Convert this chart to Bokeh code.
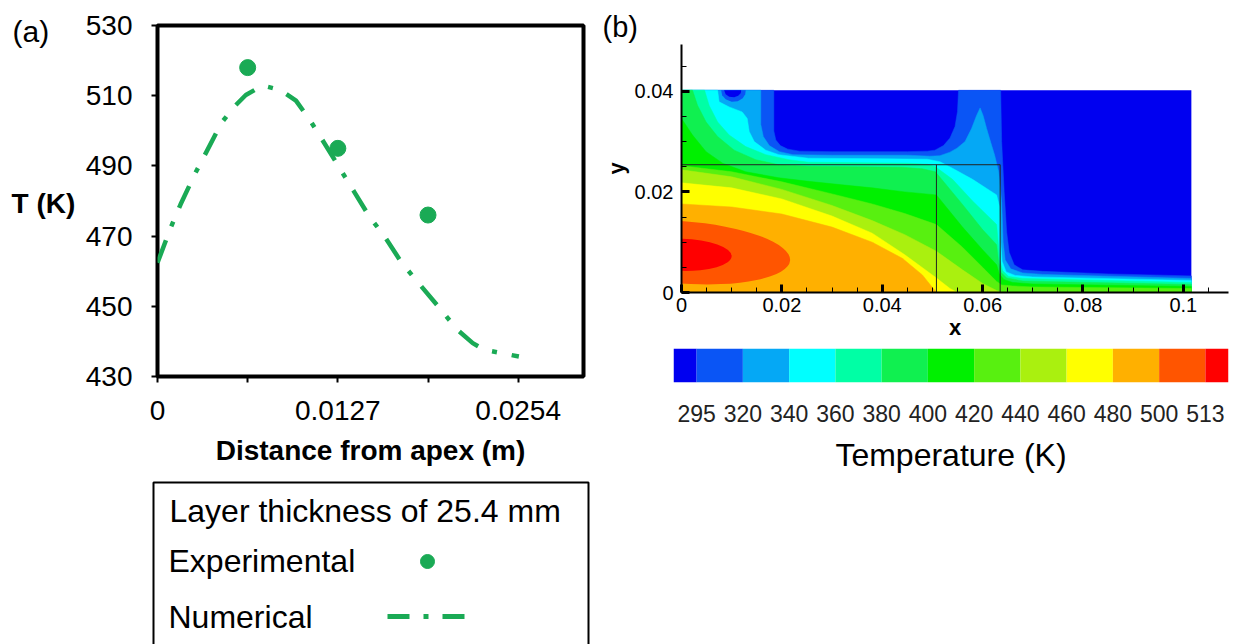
from bokeh.plotting import figure
from bokeh.layouts import row, column
from bokeh.models import Range1d, FixedTicker, SingleIntervalTicker, CustomJSTickFormatter
from bokeh.core.properties import value
from bokeh.embed import file_html
from bokeh.resources import INLINE

FONT = "Liberation Sans"
GREEN = "#1aaa55"

# ---------------- panel (a) data ----------------
exp_x = [0.00635, 0.0127, 0.01905]
exp_T = [518, 495, 476]
num_x = [0, 0.00095, 0.00162, 0.00262, 0.0031, 0.00451, 0.00541, 0.00622, 0.00739, 0.00867,
         0.00975, 0.01064, 0.01137, 0.01273, 0.01381, 0.0149, 0.01597, 0.0172, 0.01828,
         0.01976, 0.02112, 0.0222, 0.02301, 0.02545]
num_T = [462.4, 472.6, 479.0, 487.6, 491.3, 502.3, 506.9, 510.2, 512.9, 511.6,
         508.6, 503.6, 499.0, 490.0, 482.9, 475.7, 470.0, 462.4, 457.1,
         450.0, 443.3, 439.5, 437.6, 435.7]
a_xticks = [0, 0.0127, 0.0254]
a_xminor = [0.00635, 0.01905]
a_yticks = [430, 450, 470, 490, 510, 530]

# ---------------- panel (b) data ----------------
levels = [295, 320, 340, 360, 380, 400, 420, 440, 460, 480, 500, 513]
palette = ["#0000f0", "#0a55f5", "#05a8f5", "#00ffff", "#00ffa5", "#10f050", "#00f000",
           "#58f010", "#aaf00f", "#ffff00", "#ffb000", "#ff5500", "#ff0000"]
domain_w, domain_h = 0.1016, 0.0402
solid_w, solid_h, interface_x = 0.0635, 0.0254, 0.0508

# isotherm boundaries (x, y in m); region below/left is hotter
iso_295 = [(0.0184, 0.0402), (0.0184, 0.0321), (0.0188, 0.0303), (0.0197, 0.0292), (0.0212, 0.0285),
           (0.0235, 0.0281), (0.030, 0.0280), (0.045, 0.0280), (0.049, 0.0281), (0.0505, 0.0283),
           (0.0522, 0.0292), (0.0535, 0.0307), (0.0545, 0.0330), (0.0550, 0.0360), (0.0552, 0.0402),
           (0.0636, 0.0402), (0.0638, 0.030), (0.0643, 0.020), (0.0648, 0.012), (0.0653, 0.0080),
           (0.0663, 0.0055), (0.068, 0.0045), (0.072, 0.0042), (0.085, 0.0037), (0.1016, 0.0033)]
iso_320 = [(0.0158, 0.0402), (0.0158, 0.0334), (0.0163, 0.0310), (0.0175, 0.0292), (0.0195, 0.0280),
           (0.0222, 0.0274), (0.030, 0.0273), (0.045, 0.0273), (0.0495, 0.0271), (0.0515, 0.0272),
           (0.0535, 0.0279), (0.0549, 0.0287), (0.0565, 0.0300), (0.0578, 0.0326), (0.0588, 0.0352),
           (0.0595, 0.0367), (0.0601, 0.0352), (0.0608, 0.0326), (0.0616, 0.0299), (0.0624, 0.0273),
           (0.0632, 0.0240), (0.0638, 0.0180), (0.0641, 0.0100), (0.0645, 0.0065), (0.0656, 0.0047),
           (0.068, 0.0039), (0.072, 0.0036), (0.1016, 0.0028)]
iso_340 = [(0.0072, 0.0402), (0.0075, 0.0379), (0.0095, 0.0369), (0.0121, 0.0359), (0.0131, 0.0346),
           (0.0135, 0.0320), (0.0145, 0.0300), (0.0168, 0.0283), (0.0194, 0.0274), (0.0253, 0.0267),
           (0.040, 0.0266), (0.049, 0.0265), (0.0515, 0.0260), (0.054, 0.0247), (0.058, 0.0225),
           (0.0628, 0.0194), (0.0634, 0.0170), (0.0636, 0.0100), (0.0639, 0.0062), (0.0647, 0.0041),
           (0.0665, 0.0034), (0.070, 0.0031), (0.1016, 0.0024)]
iso_360 = [(0.0046, 0.0402), (0.0055, 0.0372), (0.0072, 0.0339), (0.0095, 0.0313), (0.0128, 0.0290),
           (0.0168, 0.0274), (0.0214, 0.0264), (0.0253, 0.0259), (0.035, 0.0258), (0.045, 0.0257),
           (0.049, 0.0255), (0.0506, 0.0250), (0.054, 0.0225), (0.058, 0.0182), (0.0628, 0.0135),
           (0.0631, 0.0100), (0.0634, 0.0065), (0.0640, 0.0043), (0.0652, 0.0032), (0.068, 0.0028),
           (0.072, 0.0027), (0.1016, 0.0020)]
iso_380 = [(0.0022, 0.0402), (0.0032, 0.0372), (0.0049, 0.0339), (0.0072, 0.0310), (0.0105, 0.0283),
           (0.0148, 0.0264), (0.0194, 0.0254), (0.0253, 0.0251), (0.035, 0.0250), (0.044, 0.0249),
           (0.048, 0.0246), (0.0506, 0.0240), (0.056, 0.0175), (0.060, 0.0125), (0.0628, 0.0095),
           (0.0632, 0.0060), (0.0637, 0.0040), (0.0648, 0.0029), (0.068, 0.0023), (0.072, 0.0022),
           (0.1016, 0.0016)]
iso_400 = [(0.0, 0.0346), (0.0022, 0.0313), (0.0049, 0.0280), (0.0082, 0.0257), (0.0128, 0.0240),
           (0.0194, 0.0228), (0.0253, 0.0221), (0.032, 0.0214), (0.038, 0.0208), (0.0445, 0.0200),
           (0.0508, 0.0194), (0.056, 0.0130), (0.060, 0.0085), (0.0628, 0.0055), (0.0633, 0.0038),
           (0.0642, 0.0026), (0.066, 0.0020), (0.070, 0.0017), (0.1016, 0.0012)]
iso_420 = [(0.0, 0.0252), (0.010, 0.0240), (0.020, 0.0220), (0.030, 0.0196), (0.038, 0.0176),
           (0.0445, 0.0157), (0.0508, 0.0135), (0.056, 0.0090), (0.060, 0.0050), (0.0628, 0.0022),
           (0.0638, 0.0015), (0.066, 0.0013), (0.070, 0.0011), (0.1016, 0.0008)]
iso_440 = [(0.0, 0.0244), (0.010, 0.0230), (0.020, 0.0205), (0.030, 0.0173), (0.038, 0.0143),
           (0.0445, 0.0115), (0.0508, 0.0082), (0.056, 0.0045), (0.060, 0.0018), (0.0628, 0.0004),
           (0.064, 0.0)]
iso_460 = [(0.0, 0.0218), (0.010, 0.0208), (0.020, 0.0186), (0.030, 0.0152), (0.038, 0.0118),
           (0.0445, 0.0075), (0.0508, 0.0029), (0.0535, 0.0008), (0.055, 0.0)]
iso_480 = [(0.0, 0.0176), (0.010, 0.0170), (0.020, 0.0156), (0.030, 0.0130), (0.038, 0.0100),
           (0.044, 0.0068), (0.048, 0.0035), (0.0508, 0.0)]
isotherms = [iso_295, iso_320, iso_340, iso_360, iso_380, iso_400, iso_420, iso_440, iso_460, iso_480]

# hot core (500 K and 513 K regions), half-ellipses on the symmetry axis
core_y = [0.0080, 0.0075]
core_w = [0.0434, 0.0200]
core_h = [0.0124, 0.0064]
core_tilt = [-0.075, -0.03]

# small cold pocket at the top wall
pocket_ring = [(0.0079, 0.0402), (0.0081, 0.0392), (0.0088, 0.0384), (0.0100, 0.0379), (0.0112, 0.0380),
               (0.0122, 0.0386), (0.0127, 0.0394), (0.0128, 0.0402)]
pocket_core = [(0.0085, 0.0402), (0.0088, 0.0394), (0.0095, 0.0389), (0.0105, 0.0388), (0.0113, 0.0391),
               (0.0118, 0.0396), (0.0119, 0.0402)]


def band_polygon(edge):
    xs, ys = [0.0], [0.0]
    if edge[0][0] > 0:
        xs.append(0.0)
        ys.append(domain_h)
    xs += [p[0] for p in edge]
    ys += [p[1] for p in edge]
    if edge[-1][1] > 0:
        xs.append(domain_w)
        ys.append(0.0)
    return xs, ys


def text_strip(width, height):
    f = figure(width=width, height=height, x_range=Range1d(0, width), y_range=Range1d(height, 0),
               x_axis_type=None, y_axis_type=None, min_border=0, toolbar_location=None,
               output_backend="svg", outline_line_color=None)
    f.grid.visible = False
    return f


# ---------------- left strip with "(a)" and "T (K)" ----------------
sa = text_strip(80, 480)
sa.text(x=[12], y=[31], text=["(a)"], text_font=value(FONT), text_font_size="30px",
        text_baseline="middle", text_align="left", text_color="black")
sa.text(x=[11], y=[203], text=["T (K)"], text_font=value(FONT), text_font_size="28px",
        text_font_style="bold", text_baseline="middle", text_align="left", text_color="black")

# ---------------- panel (a) ----------------
pa = figure(width=520, height=480, x_range=Range1d(0, 0.0300), y_range=Range1d(430, 530),
            min_border_left=77, min_border_right=17, min_border_top=25, min_border_bottom=104,
            toolbar_location=None, output_backend="svg",
            outline_line_color="black", outline_line_width=4)
pa.grid.visible = False
pa.line(num_x, num_T, line_color=GREEN, line_width=4.5, line_dash="24 15 5 15")
pa.scatter(exp_x, exp_T, size=16, color=GREEN)

pa.xaxis.ticker = FixedTicker(ticks=a_xticks, minor_ticks=a_xminor)
pa.xaxis.formatter = CustomJSTickFormatter(code="return String(Number(tick.toFixed(5)))")
pa.yaxis.ticker = FixedTicker(ticks=a_yticks, minor_ticks=[])
for ax in (pa.xaxis[0], pa.yaxis[0]):
    ax.axis_line_color = None
    ax.major_tick_out = 6
    ax.major_tick_in = 0
    ax.minor_tick_out = 6
    ax.minor_tick_in = 0
    ax.major_tick_line_width = 2
    ax.minor_tick_line_width = 2
    ax.major_label_text_font = FONT
    ax.major_label_text_font_size = "28px"
    ax.major_label_text_color = "black"
pa.xaxis.major_label_standoff = 18
pa.yaxis.major_label_standoff = 19
pa.xaxis.axis_label = "Distance from apex (m)"
pa.xaxis.axis_label_text_font = FONT
pa.xaxis.axis_label_text_font_style = "bold"
pa.xaxis.axis_label_text_font_size = "28px"
pa.xaxis.axis_label_text_color = "black"
pa.xaxis.axis_label_standoff = 12

# ---------------- legend box for (a) ----------------
pl = text_strip(600, 164)
pl.line(x=[153, 153, 588, 588], y=[164, 2, 2, 164], line_color="black", line_width=2)
pl.text(x=[169, 168, 168], y=[30, 80, 136],
        text=["Layer thickness of 25.4 mm", "Experimental", "Numerical"],
        text_font=value(FONT), text_font_size="32px", text_baseline="middle", text_align="left",
        text_color="black")
pl.scatter(x=[427], y=[81], size=14, color=GREEN)
pl.line(x=[387, 465], y=[136, 136], line_color=GREEN, line_width=5, line_dash="22 14 5 14")

# ---------------- strip with "(b)" ----------------
sb = text_strip(634, 44)
sb.text(x=[2], y=[26], text=["(b)"], text_font=value(FONT), text_font_size="29px",
        text_baseline="middle", text_align="left", text_color="black")

# ---------------- panel (b) ----------------
pb = figure(width=634, height=304, x_range=Range1d(0, 0.109), y_range=Range1d(0, 0.0493),
            min_border_left=78, min_border_right=6, min_border_top=0, min_border_bottom=56,
            toolbar_location=None, output_backend="svg", outline_line_color=None)
pb.grid.visible = False
pb.quad(left=[0], right=[domain_w], bottom=[0], top=[domain_h], fill_color=palette[0], line_color=None)
bxs, bys = [], []
for edge in isotherms:
    xs, ys = band_polygon(edge)
    bxs.append(xs)
    bys.append(ys)
pb.patches(bxs, bys, fill_color=palette[1:11], line_color=palette[1:11], line_width=0.5)
pb.ellipse(x=[0, 0], y=core_y, width=core_w, height=core_h, angle=core_tilt,
           fill_color=palette[11:13], line_color=None)
pb.patches([[p[0] for p in pocket_ring], [p[0] for p in pocket_core]],
           [[p[1] for p in pocket_ring], [p[1] for p in pocket_core]],
           fill_color=[palette[1], palette[0]], line_color=None)
pb.multi_line(xs=[[0, solid_w, solid_w], [interface_x, interface_x]],
              ys=[[solid_h, solid_h, 0], [0, solid_h]], line_color="#222222", line_width=1)

pb.xaxis.ticker = SingleIntervalTicker(interval=0.02, num_minor_ticks=4)
pb.yaxis.ticker = SingleIntervalTicker(interval=0.02, num_minor_ticks=4)
for ax in (pb.xaxis[0], pb.yaxis[0]):
    ax.formatter = CustomJSTickFormatter(code="return tick == 0 ? '0' : String(Number(tick.toFixed(4)))")
    ax.axis_line_width = 2
    ax.axis_line_color = "black"
    ax.major_tick_in = 8
    ax.major_tick_out = 0
    ax.minor_tick_in = 5
    ax.minor_tick_out = 0
    ax.major_tick_line_width = 3
    ax.minor_tick_line_width = 1
    ax.major_label_text_font = FONT
    ax.major_label_text_font_size = "20px"
    ax.major_label_text_color = "black"
    ax.axis_label_text_font = FONT
    ax.axis_label_text_font_style = "bold"
    ax.axis_label_text_font_size = "22px"
    ax.axis_label_text_color = "black"
pb.xaxis.axis_label = "x"
pb.yaxis.axis_label = "y"
pb.xaxis.major_label_standoff = 5
pb.xaxis.axis_label_standoff = 0
pb.yaxis.major_label_standoff = 8
pb.yaxis.axis_label_standoff = 3

# ---------------- colour legend ----------------
n = len(palette)
cb_left = [-0.5] + [i - 1 for i in range(1, n)]
cb_right = [i for i in range(0, n - 1)] + [n - 1.5]
pc = figure(width=634, height=296, x_range=Range1d(-0.5, len(levels) - 0.5), y_range=Range1d(0, 1),
            y_axis_type=None, min_border_left=73, min_border_right=6, min_border_top=0,
            min_border_bottom=262, toolbar_location=None, output_backend="svg",
            outline_line_color=None)
pc.grid.visible = False
pc.quad(left=cb_left, right=cb_right, bottom=0, top=1, fill_color=palette, line_color=None)
pc.xaxis.ticker = FixedTicker(ticks=list(range(len(levels))), minor_ticks=[])
pc.xaxis.formatter = CustomJSTickFormatter(args=dict(labels=[str(v) for v in levels]),
                                           code="return labels[Math.round(tick)]")
pc.xaxis.axis_line_color = None
pc.xaxis.major_tick_line_color = None
pc.xaxis.minor_tick_line_color = None
pc.xaxis.major_label_text_font = FONT
pc.xaxis.major_label_text_font_size = "23px"
pc.xaxis.major_label_text_color = "#222222"
pc.xaxis.major_label_standoff = 16
pc.xaxis.axis_label = "Temperature (K)"
pc.xaxis.axis_label_text_font = FONT
pc.xaxis.axis_label_text_font_style = "normal"
pc.xaxis.axis_label_text_font_size = "32px"
pc.xaxis.axis_label_text_color = "black"
pc.xaxis.axis_label_standoff = 12

left = column(row(column(sa), column(pa)), row(pl))
right = column(row(sb), column(pb), row(pc))
layout = row(left, right)
open("out.html", "w").write(file_html(layout, INLINE))
